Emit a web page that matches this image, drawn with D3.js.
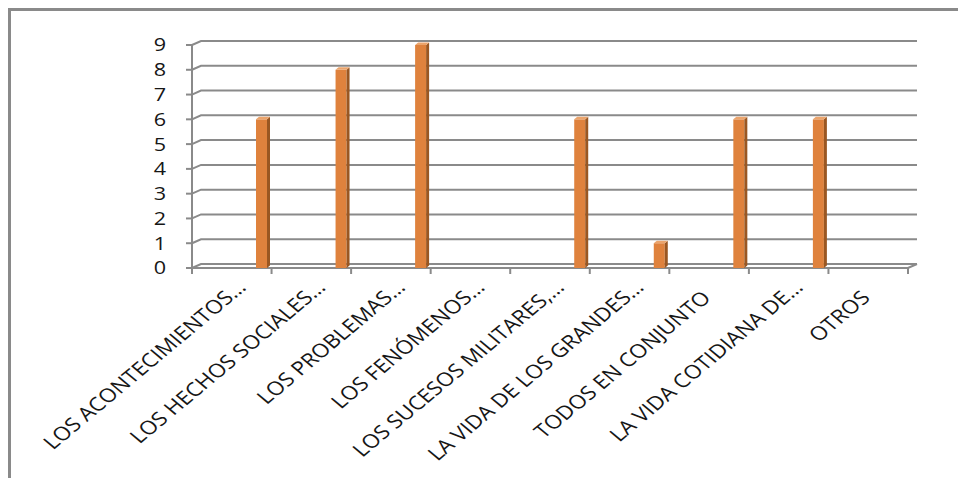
<!DOCTYPE html>
<html>
<head>
<meta charset="utf-8">
<script src="https://cdn.jsdelivr.net/npm/d3@7"></script>
<style>
  body { margin: 0; background: #fff; }
  svg { display: block; }
  text { font-family: "Open Sans", sans-serif; fill: #161616; }
</style>
</head>
<body>
<script>
// Chart data
const categories = [
  "LOS ACONTECIMIENTOS…",
  "LOS HECHOS SOCIALES…",
  "LOS PROBLEMAS…",
  "LOS FENÓMENOS…",
  "LOS SUCESOS MILITARES,…",
  "LA VIDA DE LOS GRANDES…",
  "TODOS EN CONJUNTO",
  "LA VIDA COTIDIANA DE…",
  "OTROS"
];
const values = [6, 8, 9, 0, 6, 1, 6, 6, 0];
const yTicks = [0, 1, 2, 3, 4, 5, 6, 7, 8, 9];

const svgWidth = 958;
const svgHeight = 478;
const stretch = 1.2;            // picture is stretched sideways
const depth = { x: 9, y: -4 };  // 3D back-wall offset

const svg = d3.select("body")
  .append("svg")
  .attr("width", svgWidth)
  .attr("height", svgHeight);

// outer frame (cut off at right and bottom)
svg.append("path")
  .attr("d", `M9.5,${svgHeight} L9.5,9.5 L${svgWidth},9.5`)
  .attr("fill", "none")
  .attr("stroke", "#8a8a8a")
  .attr("stroke-width", 3);

// Scales
const xScale = d3.scaleBand()
  .domain(categories)
  .range([192, 908])
  .padding(0);

const yScale = d3.scaleLinear()
  .domain([0, 9])
  .range([268, 45]);

const x0 = xScale.range()[0];
const x1 = xScale.range()[1];
const gridColor = "#8a8a8a";

// gridlines on side + back wall
svg.append("g")
  .selectAll("path")
  .data(yTicks)
  .enter().append("path")
  .attr("d", d => {
    const y = yScale(d);
    return `M${x0},${y} L${x0 + depth.x},${y + depth.y} L${x1 + depth.x},${y + depth.y}`;
  })
  .attr("fill", "none")
  .attr("stroke", gridColor)
  .attr("stroke-width", 2);

// floor front edge and right diagonal
svg.append("path")
  .attr("d", `M${x0},${yScale(0)} L${x1},${yScale(0)} L${x1 + depth.x},${yScale(0) + depth.y}`)
  .attr("fill", "none")
  .attr("stroke", gridColor)
  .attr("stroke-width", 2);

// y axis line
svg.append("line")
  .attr("x1", x0).attr("x2", x0)
  .attr("y1", yScale(9)).attr("y2", yScale(0) + 6)
  .attr("stroke", gridColor)
  .attr("stroke-width", 2);

// y ticks
svg.append("g")
  .selectAll("line")
  .data(yTicks)
  .enter().append("line")
  .attr("x1", x0 - 6).attr("x2", x0)
  .attr("y1", d => yScale(d)).attr("y2", d => yScale(d))
  .attr("stroke", gridColor)
  .attr("stroke-width", 2);

// category ticks
const catEdges = categories.map(c => xScale(c)).concat([x1]);
svg.append("g")
  .selectAll("line")
  .data(catEdges)
  .enter().append("line")
  .attr("x1", d => d).attr("x2", d => d)
  .attr("y1", yScale(0)).attr("y2", yScale(0) + 6)
  .attr("stroke", gridColor)
  .attr("stroke-width", 2);

// y labels
svg.append("g")
  .selectAll("text")
  .data(yTicks)
  .enter().append("text")
  .attr("transform", d => `translate(166,${yScale(d)}) scale(${stretch},1)`)
  .attr("dy", "0.36em")
  .attr("text-anchor", "end")
  .style("font-size", "18px")
  .text(d => d);

// bars (front, side, top faces)
const barW = 11, sideW = 3, sideH = 2.5, barOff = 64;
const bars = svg.append("g")
  .selectAll("g")
  .data(categories.map((c, i) => ({ c: c, v: values[i] })).filter(d => d.v > 0))
  .enter().append("g");

bars.append("rect")
  .attr("x", d => xScale(d.c) + barOff)
  .attr("y", d => yScale(d.v))
  .attr("width", barW)
  .attr("height", d => yScale(0) - yScale(d.v))
  .attr("fill", "#df823d");

bars.append("path")
  .attr("d", d => {
    const x = xScale(d.c) + barOff + barW, yt = yScale(d.v), yb = yScale(0);
    return `M${x},${yt} L${x + sideW},${yt - sideH} L${x + sideW},${yb - sideH} L${x},${yb} Z`;
  })
  .attr("fill", "#9a5722");

bars.append("path")
  .attr("d", d => {
    const x = xScale(d.c) + barOff, yt = yScale(d.v);
    return `M${x},${yt} L${x + sideW},${yt - sideH} L${x + barW + sideW},${yt - sideH} L${x + barW},${yt} Z`;
  })
  .attr("fill", "#eba46c");

// category labels, rotated; ellipsis hangs past the anchor point
const labels = svg.append("g")
  .selectAll("g")
  .data(categories)
  .enter().append("g")
  .attr("transform", d => `translate(${xScale(d) + xScale.bandwidth() / 2 + 3},299) scale(${stretch},1) rotate(-45)`);

labels.append("text")
  .attr("text-anchor", "end")
  .style("font-size", "19px")
  .text(d => d.replace("…", ""));

labels.filter(d => d.endsWith("…")).append("text")
  .attr("text-anchor", "start")
  .style("font-size", "19px")
  .text("…");
</script>
</body>
</html>
